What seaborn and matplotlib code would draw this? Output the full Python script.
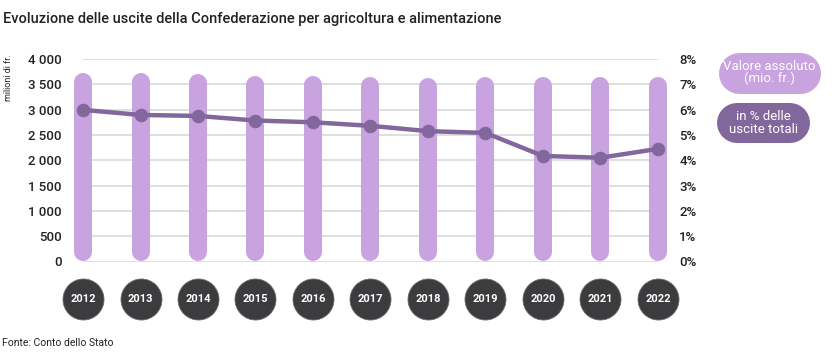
import numpy as np
import pandas as pd
import matplotlib
matplotlib.use("Agg")
import matplotlib.pyplot as plt
import matplotlib.transforms as mtransforms
from matplotlib.lines import Line2D
import seaborn as sns

# ---------------- data ----------------
years = [2012, 2013, 2014, 2015, 2016, 2017, 2018, 2019, 2020, 2021, 2022]
absolute_values = [3725, 3725, 3705, 3670, 3670, 3640, 3620, 3640, 3640, 3640, 3640]
percent_values = [5.99, 5.79, 5.75, 5.57, 5.50, 5.36, 5.15, 5.08, 4.17, 4.10, 4.45]
left_ticks = [0, 500, 1000, 1500, 2000, 2500, 3000, 3500, 4000]
left_tick_labels = ["0", "500", "1 000", "1 500", "2 000", "2 500", "3 000", "3 500", "4 000"]
right_ticks = [0, 1, 2, 3, 4, 5, 6, 7, 8]
right_tick_labels = ["0%", "1%", "2%", "3%", "4%", "5%", "6%", "7%", "8%"]
title = "Evoluzione delle uscite della Confederazione per agricoltura e alimentazione"
y_label = "milioni di fr."
source = "Fonte: Conto dello Stato"
legend_abs = "Valore assoluto\n(mio. fr.)"
legend_pct = "in % delle\nuscite totali"

# ---------------- style ----------------
bar_color = "#c9a2e0"
line_color = "#82679c"
circle_color = "#3c3b3e"
grid_color = "#dcdcdc"
text_color = "#222222"

sns.set_theme(style="white")
plt.rcParams["font.family"] = ["Roboto", "DejaVu Sans"]

W, H = 836, 362
fig = plt.figure(figsize=(W / 100, H / 100), dpi=100)

n = len(years)
pad = 0.3
unit_px = 57.5
first_px, last_px = 83, 658
left_px = first_px - pad * unit_px
right_px = last_px + pad * unit_px
top_px, bottom_px = 59, 261.5
ax = fig.add_axes([left_px / W, 1 - bottom_px / H, (right_px - left_px) / W, (bottom_px - top_px) / H])

df = pd.DataFrame({"Anno": years, "Valore": absolute_values, "Percentuale": percent_values})

bar_px = 18
bar_w = bar_px / unit_px
sns.barplot(data=df, x="Anno", y="Valore", color=bar_color, width=bar_w, ax=ax,
            saturation=1, zorder=2)
ax.set_xlim(-pad, n - 1 + pad)
ax.set_ylim(left_ticks[0], left_ticks[-1])

# convert bars to rounded "pills" (thick segments with round caps)
fig.canvas.draw()
p0 = ax.transData.transform((0, 0))
p1 = ax.transData.transform((1, 1))
y_per_px = 1 / (p1[1] - p0[1])
r_data = (bar_px / 2) * y_per_px
for patch in list(ax.patches):
    x, y = patch.get_x(), patch.get_y()
    w, h = patch.get_width(), patch.get_height()
    patch.remove()
    xc = x + w / 2
    ax.plot([xc, xc], [y + r_data, y + h - r_data], color=bar_color,
            lw=bar_px * 0.72, solid_capstyle="round", zorder=2)

ax.hlines(left_ticks, 0, n - 1, color=grid_color, lw=1.3, zorder=0)
ax.set_yticks(left_ticks, left_tick_labels)
ax.tick_params(axis="y", length=0, pad=3, labelsize=9.5, labelcolor=text_color)
for lbl in ax.get_yticklabels():
    lbl.set_fontweight("medium")
ax.set_xticks([])
ax.set_xlabel("")
ax.set_ylabel("")
for s in ax.spines.values():
    s.set_visible(False)

ax2 = ax.twinx()
sns.lineplot(x=np.arange(n), y=df["Percentuale"].to_numpy(), ax=ax2, color=line_color,
             lw=3.2, marker="o", markersize=9, markeredgecolor=line_color, zorder=3)
ax2.set_ylim(right_ticks[0], right_ticks[-1])
ax2.set_xlim(-pad, n - 1 + pad)
ax2.set_yticks(right_ticks, right_tick_labels)
ax2.tick_params(axis="y", length=0, pad=3, labelsize=9.5, labelcolor=text_color)
for lbl in ax2.get_yticklabels():
    lbl.set_fontweight("medium")
ax2.set_ylabel("")
for s in ax2.spines.values():
    s.set_visible(False)

# year bubbles
trans = mtransforms.blended_transform_factory(ax.transData, fig.transFigure)
yc = 1 - 298.5 / H
ax.scatter(np.arange(n), [yc] * n, s=(41 * 0.72) ** 2, color=circle_color,
           edgecolor="#6a6a6a", linewidth=0.6, transform=trans, clip_on=False, zorder=5)
for i, yr in enumerate(years):
    ax.text(i, yc, str(yr), transform=trans, ha="center", va="center", color="white",
            fontsize=8, fontweight="bold", zorder=6)

# texts
fig.text(3 / W, 1 - 19 / H, title, ha="left", va="center", fontsize=10.5,
         fontweight="medium", color=text_color)
fig.text(4 / W, 1 - 54 / H, y_label, ha="left", va="top", rotation=90, fontsize=6.5,
         color=text_color)
fig.text(2 / W, 1 - 343 / H, source, ha="left", va="center", fontsize=7.5, color=text_color)


# legend pills
def pill(x0, x1, yc_px, height, color, label):
    r = height / 2
    fig.add_artist(Line2D([(x0 + r) / W, (x1 - r) / W], [1 - yc_px / H] * 2,
                          transform=fig.transFigure, color=color, lw=height * 0.72,
                          solid_capstyle="round"))
    fig.text((x0 + x1) / 2 / W, 1 - yc_px / H, label, ha="center", va="center",
             color="white", fontsize=9.5, linespacing=0.95)


pill(718, 820, 72.5, 41, bar_color, legend_abs)
pill(717, 810, 123, 40, line_color, legend_pct)

fig.savefig("out.png", dpi=100)
